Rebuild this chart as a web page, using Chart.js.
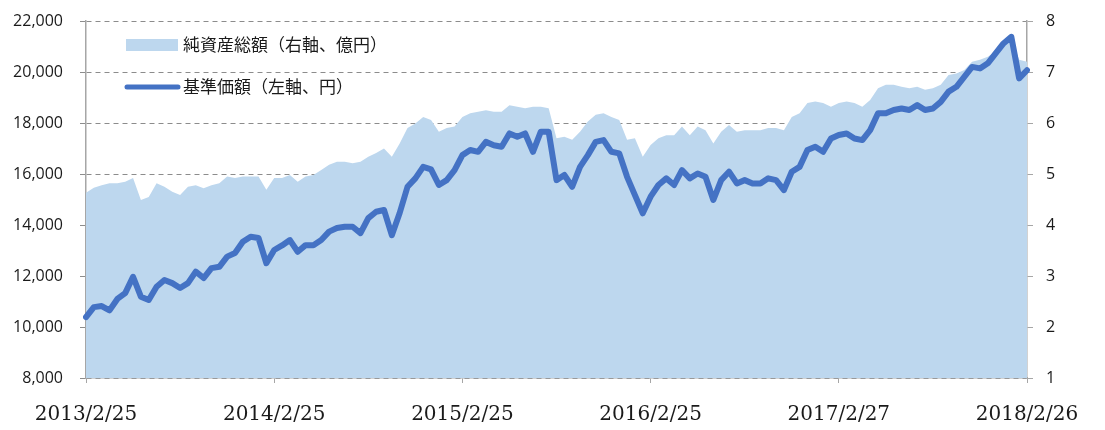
<!DOCTYPE html>
<html>
<head>
<meta charset="utf-8">
<script src="https://cdn.jsdelivr.net/npm/chart.js@4.4.1/dist/chart.umd.min.js"></script>
<style>
  body { margin: 0; background: #fff; }
  #wrap { width: 1105px; height: 430px; }
</style>
</head>
<body>
<div id="wrap"><canvas id="myChart"></canvas></div>
<script>
// 目盛りの日付 (24点ごと)
const tickLabels = ['2013/2/25', '2014/2/25', '2015/2/25', '2016/2/25', '2017/2/27', '2018/2/26'];
const tickEvery = 24;

// 基準価額 (左軸、円)
const nav = [
    10390, 10780, 10820, 10650, 11100, 11330, 11970, 11190, 11060, 11580,
    11840, 11720, 11530, 11720, 12170, 11920, 12310, 12360, 12760, 12900,
    13340, 13540, 13490, 12500, 13020, 13200, 13410, 12950, 13210, 13210,
    13410, 13740, 13880, 13930, 13930, 13680, 14270, 14520, 14590, 13600,
    14470, 15500, 15830, 16280, 16180, 15570, 15760, 16150, 16740, 16940,
    16870, 17260, 17130, 17070, 17590, 17460, 17590, 16870, 17660, 17660,
    15760, 15960, 15500, 16280, 16740, 17260, 17330, 16870, 16810, 15890,
    15170, 14460, 15110, 15570, 15830, 15570, 16150, 15830, 16020, 15890,
    14980, 15760, 16090, 15630, 15760, 15630, 15630, 15830, 15760, 15370,
    16090, 16280, 16940, 17070, 16870, 17390, 17530, 17590, 17390, 17330,
    17720, 18380, 18380, 18510, 18570, 18510, 18700, 18510, 18570, 18830,
    19230, 19420, 19810, 20200, 20140, 20340, 20730, 21120, 21380, 19750,
    20070
];

// 純資産総額 (右軸、億円)
const assets = [
    4.63, 4.73, 4.78, 4.82, 4.82, 4.85, 4.92, 4.49, 4.55, 4.82,
    4.75, 4.65, 4.59, 4.75, 4.78, 4.72, 4.78, 4.82, 4.95, 4.92,
    4.95, 4.95, 4.95, 4.69, 4.92, 4.92, 4.98, 4.85, 4.95, 4.98,
    5.08, 5.18, 5.24, 5.24, 5.21, 5.24, 5.34, 5.41, 5.50, 5.34,
    5.60, 5.90, 5.99, 6.12, 6.06, 5.83, 5.90, 5.93, 6.12, 6.19,
    6.22, 6.25, 6.22, 6.22, 6.35, 6.32, 6.29, 6.32, 6.32, 6.29,
    5.70, 5.73, 5.67, 5.83, 6.03, 6.16, 6.19, 6.12, 6.06, 5.67,
    5.70, 5.34, 5.57, 5.70, 5.76, 5.76, 5.93, 5.76, 5.93, 5.86,
    5.60, 5.83, 5.96, 5.83, 5.86, 5.86, 5.86, 5.90, 5.90, 5.86,
    6.12, 6.19, 6.39, 6.42, 6.39, 6.32, 6.39, 6.42, 6.39, 6.32,
    6.45, 6.68, 6.75, 6.75, 6.71, 6.68, 6.71, 6.65, 6.68, 6.75,
    6.94, 6.97, 7.04, 7.20, 7.24, 7.30, 7.40, 7.56, 7.66, 7.24,
    7.20
];

const labels = nav.map((v, i) => (i % tickEvery === 0 ? tickLabels[i / tickEvery] : ''));

const lineColor = '#4472C4';
const areaColor = '#BDD7EE';
const axisGray = '#A6A6A6';

// 凡例をプロット内に描く
const innerLegend = {
    id: 'innerLegend',
    afterDraw(chart) {
        const ctx = chart.ctx;
        ctx.save();
        ctx.font = '17px "Noto Sans CJK JP"';
        ctx.textBaseline = 'middle';

        ctx.fillStyle = areaColor;
        ctx.fillRect(126, 39, 52, 12);
        ctx.fillStyle = '#1a1a1a';
        ctx.fillText(chart.data.datasets[1].label, 183, 45);

        ctx.strokeStyle = lineColor;
        ctx.lineWidth = 5;
        ctx.lineCap = 'round';
        ctx.beginPath();
        ctx.moveTo(127, 87);
        ctx.lineTo(178, 87);
        ctx.stroke();
        ctx.fillText(chart.data.datasets[0].label, 183, 87);
        ctx.restore();
    }
};

// 縦軸の幅を固定し、目盛りの余白で上端がずれないようにする
function fixAxis(width) {
    return function (scale) {
        scale.width = width;
        scale.paddingTop = 0;
        scale.paddingBottom = 0;
    };
}

Chart.defaults.font.family = '"Open Sans"';
Chart.defaults.color = '#1a1a1a';

const ctx = document.getElementById('myChart');
new Chart(ctx, {
    type: 'line',
    data: {
        labels: labels,
        datasets: [{
            label: '基準価額（左軸、円）',
            data: nav,
            yAxisID: 'y',
            borderColor: lineColor,
            borderWidth: 6,
            borderJoinStyle: 'round',
            borderCapStyle: 'round',
            pointRadius: 0,
            fill: false,
            order: 0
        }, {
            label: '純資産総額（右軸、億円）',
            data: assets,
            yAxisID: 'y2',
            borderWidth: 0,
            backgroundColor: areaColor,
            pointRadius: 0,
            fill: 'start',
            order: 1
        }]
    },
    options: {
        responsive: true,
        maintainAspectRatio: false,
        animation: false,
        locale: 'en-US',
        layout: { padding: { top: 21, bottom: 0, left: 0, right: 0 } },
        plugins: {
            legend: { display: false },
            tooltip: { enabled: false }
        },
        scales: {
            x: {
                type: 'category',
                offset: false,
                afterFit(scale) { scale.height = 52; },
                grid: {
                    display: true,
                    drawOnChartArea: false,
                    tickLength: 5,
                    tickColor: axisGray
                },
                border: { color: axisGray, width: 1.5 },
                ticks: {
                    autoSkip: false,
                    maxRotation: 0,
                    padding: 20,
                    font: { family: '"DejaVu Serif"', size: 20 },
                    color: '#1a1a1a',
                    callback(value) {
                        const l = this.getLabelForValue(value);
                        return l ? l : null;
                    }
                }
            },
            y: {
                position: 'left',
                min: 8000,
                max: 22000,
                afterFit: fixAxis(86),
                grid: {
                    color: '#8C8C8C',
                    lineWidth: 1,
                    tickLength: 6,
                    tickColor: '#8C8C8C'
                },
                border: { color: axisGray, width: 1.5, dash: [5, 4] },
                ticks: {
                    stepSize: 2000,
                    padding: 17,
                    font: { size: 16 }
                }
            },
            y2: {
                position: 'right',
                min: 1,
                max: 8,
                afterFit: fixAxis(78),
                grid: {
                    drawOnChartArea: false,
                    tickLength: 6,
                    tickColor: axisGray
                },
                border: { color: axisGray, width: 1.5 },
                ticks: {
                    stepSize: 1,
                    padding: 13,
                    font: { size: 16 }
                }
            }
        }
    },
    plugins: [innerLegend]
});
</script>
</body>
</html>
